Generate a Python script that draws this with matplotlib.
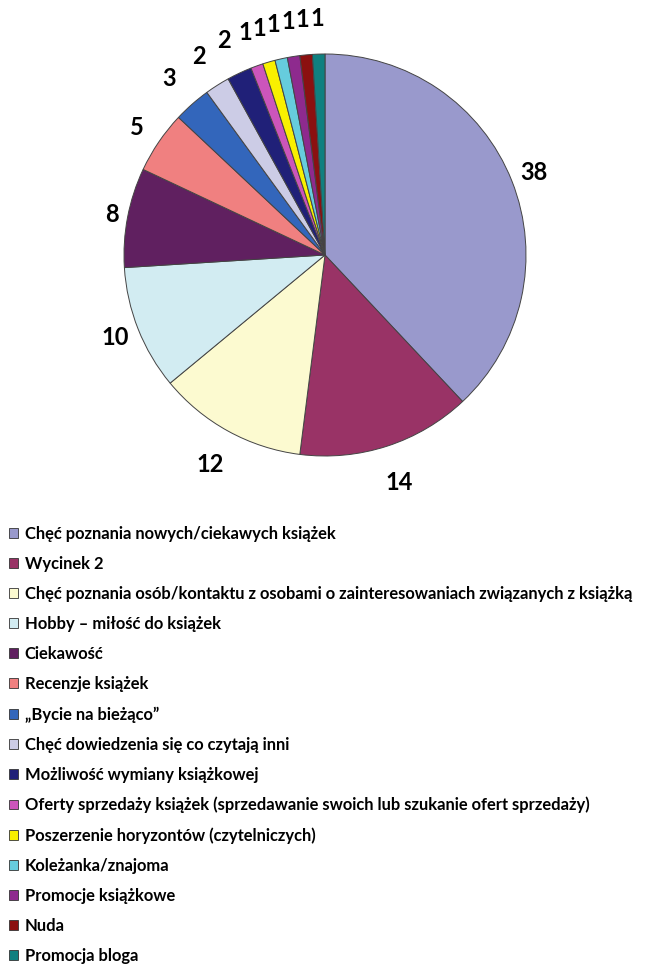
import matplotlib
matplotlib.use("Agg")
import numpy as np
import matplotlib.pyplot as plt

categories = [
    "Chęć poznania nowych/ciekawych książek",
    "Wycinek 2",
    "Chęć poznania osób/kontaktu z osobami o zainteresowaniach związanych z książką",
    "Hobby – miłość do książek",
    "Ciekawość",
    "Recenzje książek",
    "„Bycie na bieżąco”",
    "Chęć dowiedzenia się co czytają inni",
    "Możliwość wymiany książkowej",
    "Oferty sprzedaży książek (sprzedawanie swoich lub szukanie ofert sprzedaży)",
    "Poszerzenie horyzontów (czytelniczych)",
    "Koleżanka/znajoma",
    "Promocje książkowe",
    "Nuda",
    "Promocja bloga",
]
values = [38, 14, 12, 10, 8, 5, 3, 2, 2, 1, 1, 1, 1, 1, 1]
colors = ["#9999CC", "#993366", "#FCFAD0", "#D2ECF2", "#602060", "#F08080",
          "#3366BB", "#CCCCE6", "#202078", "#CC55BB", "#F8F000", "#66CCDD",
          "#8E2A8E", "#8B1010", "#108080"]
# label distance (in radii) per slice label
label_dist = [1.12, 1.19, 1.19, 1.12, 1.08, 1.13, 1.17, 1.17, 1.18,
              1.175, 1.175, 1.175, 1.175, 1.175, 1.175]

W, H = 657, 964
fig = plt.figure(figsize=(W / 100, H / 100), dpi=100)
cx, cy, r = 325, 255, 201
ax = fig.add_axes([(cx - r) / W, 1 - (cy + r) / H, 2 * r / W, 2 * r / H])
wedges, _ = ax.pie(values, colors=colors, startangle=90, counterclock=False,
                   wedgeprops=dict(edgecolor="#444444", linewidth=0.7))
for w, v, d in zip(wedges, values, label_dist):
    ang = np.deg2rad((w.theta1 + w.theta2) / 2)
    ax.text(d * np.cos(ang), d * np.sin(ang), str(v), ha="center", va="center",
            fontsize=17, fontweight="bold", family=["Lato", "DejaVu Sans"])
ax.set_xlim(-1, 1)
ax.set_ylim(-1, 1)
ax.set_aspect("equal")
ax.axis("off")

leg = fig.legend(wedges, categories, loc="upper left",
                 bbox_to_anchor=(9 / W, 1 - 526 / H), frameon=False,
                 handlelength=0.54, handleheight=0.54, handletextpad=0.42,
                 labelspacing=0.85, borderaxespad=0, borderpad=0,
                 prop=dict(family=["Lato", "DejaVu Sans"], size=11.9,
                           weight="bold"))
for h in leg.legend_handles:
    h.set_edgecolor("#333333")
    h.set_linewidth(0.6)

fig.savefig("out.png", dpi=100)
